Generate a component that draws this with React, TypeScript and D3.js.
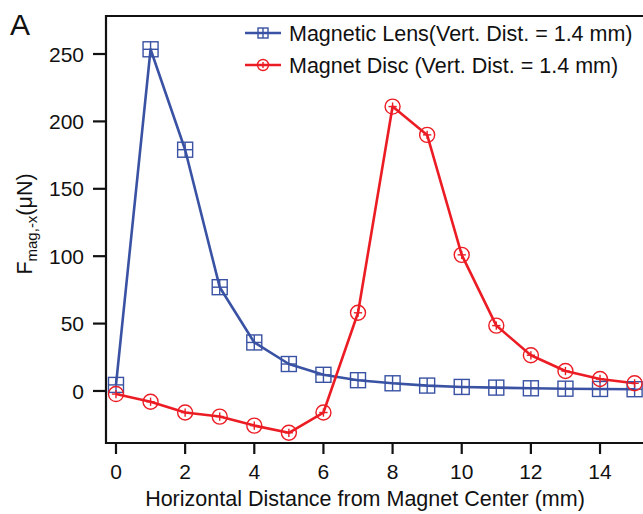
import React from "react";
import * as d3 from "d3";

const xValues = [0, 1, 2, 3, 4, 5, 6, 7, 8, 9, 10, 11, 12, 13, 14, 15];
const lensValues = [4.5, 253.5, 179, 77, 36, 20, 12, 8, 5.7, 4, 3, 2.5, 2, 1.7, 1.5, 1.3];
const discValues = [-2.3, -8, -16, -19, -25.7, -31, -16, 58, 211, 190, 101, 48.5, 26.5, 14.8, 8.9, 5.7];
const xTicks = [0, 2, 4, 6, 8, 10, 12, 14];
const yTicks = [0, 50, 100, 150, 200, 250];
const seriesNames = ["Magnetic Lens(Vert. Dist. = 1.4 mm)", "Magnet Disc (Vert. Dist. = 1.4 mm)"];

const W = 643;
const H = 514;
const BLUE = "#3a52a3";
const RED = "#ec1c24";
const FONT = "'Liberation Sans', Arial, Helvetica, sans-serif";

const left = 106, right = 643, top = 16, bottom = 443;

export default function App() {
  const x = d3.scaleLinear().domain([-0.289, 15.243]).range([left, right]);
  const y = d3.scaleLinear().domain([-38.6, 278.2]).range([bottom, top]);

  const lensPts = xValues.map((v, i) => [v, lensValues[i]] as [number, number]);
  const discPts = xValues.map((v, i) => [v, discValues[i]] as [number, number]);
  const line = d3.line<[number, number]>().x(d => x(d[0])).y(d => y(d[1]));

  const square = (cx: number, cy: number, s: number, key: string | number) => (
    <g key={key} stroke={BLUE} strokeWidth={1.4} fill="none">
      <rect x={cx - s / 2} y={cy - s / 2} width={s} height={s} />
      <line x1={cx - s / 2} x2={cx + s / 2} y1={cy} y2={cy} />
      <line x1={cx} x2={cx} y1={cy - s / 2} y2={cy + s / 2} />
    </g>
  );
  const circle = (cx: number, cy: number, r: number, key: string | number) => (
    <g key={key} stroke={RED} strokeWidth={1.4} fill="none">
      <circle cx={cx} cy={cy} r={r} />
      <line x1={cx - r * 0.55} x2={cx + r * 0.55} y1={cy} y2={cy} />
      <line x1={cx} x2={cx} y1={cy - r * 0.55} y2={cy + r * 0.55} />
    </g>
  );

  return (
    <svg width={W} height={H} style={{ position: "absolute", left: 0, top: 0, background: "#fff" }} fontFamily={FONT}>
      <rect width={W} height={H} fill="#fff" />
      {/* panel letter */}
      <text x={10} y={35} fontSize={30} fill="#111">A</text>

      {/* frame */}
      <g stroke="#111" strokeWidth={2.2} fill="none">
        <line x1={left} x2={right} y1={top} y2={top} />
        <line x1={left} x2={left} y1={top - 1.1} y2={bottom + 1.1} />
        <line x1={left} x2={right} y1={bottom} y2={bottom} />
      </g>

      {/* x ticks */}
      {xTicks.map(t => (
        <g key={"xt" + t}>
          <line x1={x(t)} x2={x(t)} y1={bottom} y2={bottom + 11} stroke="#111" strokeWidth={2.2} />
          <text x={x(t)} y={479} fontSize={21} textAnchor="middle" fill="#111">{t}</text>
        </g>
      ))}
      {/* y ticks */}
      {yTicks.map(t => (
        <g key={"yt" + t}>
          <line x1={left - 13} x2={left} y1={y(t)} y2={y(t)} stroke="#111" strokeWidth={2.2} />
          <text x={84} y={y(t)} dy="0.36em" fontSize={21} textAnchor="end" fill="#111">{t}</text>
        </g>
      ))}

      {/* axis titles */}
      <text x={(147 + 583) / 2} y={506} fontSize={21.5} textAnchor="middle" fill="#111">
        Horizontal Distance from Magnet Center (mm)
      </text>
      <text transform={`translate(32,224) rotate(-90)`} fontSize={21.5} textAnchor="middle" fill="#111">
        F<tspan fontSize={15} dy={5}>mag,-x</tspan><tspan dy={-5}>(μN)</tspan>
      </text>

      {/* series lines */}
      <path d={line(lensPts) || ""} fill="none" stroke={BLUE} strokeWidth={2.6} strokeLinejoin="round" />
      <path d={line(discPts) || ""} fill="none" stroke={RED} strokeWidth={2.6} strokeLinejoin="round" />

      {lensPts.map((d, i) => square(x(d[0]), y(d[1]), 15, "s" + i))}
      {discPts.map((d, i) => circle(x(d[0]), y(d[1]), 7.5, "c" + i))}

      {/* legend */}
      <g>
        <line x1={245} x2={281} y1={33} y2={33} stroke={BLUE} strokeWidth={2.6} />
        {square(263, 33, 10, "ls")}
        <text x={289} y={33} dy="0.36em" fontSize={21.5} fill="#111">{seriesNames[0]}</text>
        <line x1={245} x2={281} y1={65} y2={65} stroke={RED} strokeWidth={2.6} />
        {circle(263, 65, 5.5, "lc")}
        <text x={289} y={65} dy="0.36em" fontSize={21.5} fill="#111">{seriesNames[1]}</text>
      </g>
    </svg>
  );
}
